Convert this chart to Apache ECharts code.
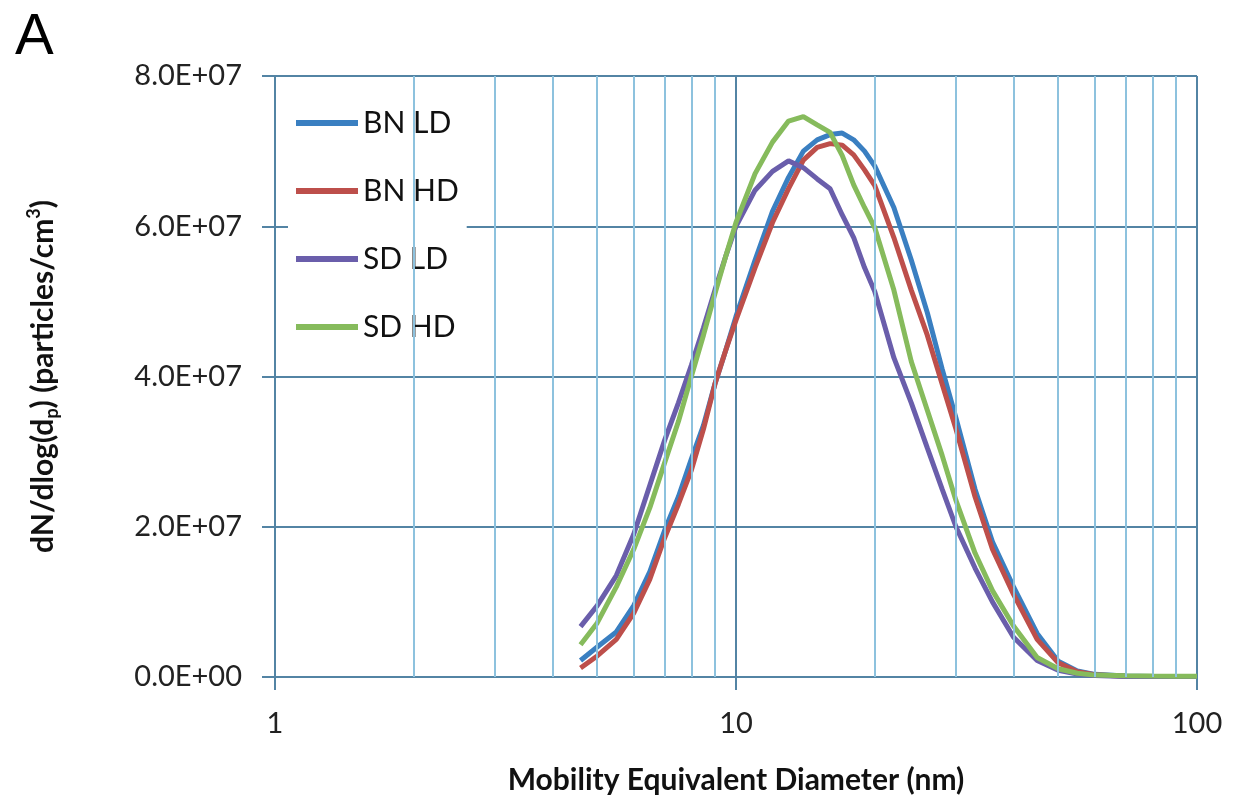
<!DOCTYPE html>
<html>
<head>
<meta charset="utf-8">
<script src="https://cdn.jsdelivr.net/npm/echarts@6/dist/echarts.min.js"></script>
<style>
  html, body { margin: 0; padding: 0; background: #fff; }
  #chart { width: 1233px; height: 803px; }
</style>
</head>
<body>
<div id="chart"></div>
<script>
// mobility diameters (nm) shared by all four curves
var diameters = [4.6, 5, 5.5, 6, 6.5, 7, 7.5, 8, 8.5, 9, 9.5, 10, 11, 12, 13, 14, 15, 16, 17, 18, 19, 20,
  22, 24, 26, 28, 30, 33, 36, 40, 45, 50, 55, 60, 70, 80, 90, 100];

// dN/dlog(dp), in millions of particles/cm3
var bnLD = [2.2, 4.0, 6.0, 9.5, 14, 19.5, 24, 29, 33.5, 39, 43.5, 48, 55.5, 62, 66.5, 70, 71.5, 72.2, 72.4, 71.5, 70, 68,
  62.5, 55.5, 48.5, 41, 34.5, 25, 18, 12, 5.8, 2.1, 0.8, 0.35, 0.12, 0.08, 0.05, 0.05];
var bnHD = [1.2, 2.8, 5.0, 8.5, 13, 18.5, 23, 27.5, 33, 39, 43.5, 47.5, 54.5, 60.5, 65, 68.8, 70.5, 71, 70.8, 69.5, 67.5, 65.4,
  58.5, 51.5, 45.5, 39, 33, 24, 17, 11, 5, 1.9, 0.7, 0.3, 0.1, 0.06, 0.05, 0.05];
var sdLD = [6.7, 9.5, 13.5, 19, 25.5, 31.5, 36.5, 41.5, 46.5, 51.5, 56, 60, 64.8, 67.3, 68.7, 67.8, 66.3, 65, 61.5, 58.5, 54.5, 51.3,
  42.5, 36.5, 30.5, 25, 20, 14.5, 10, 5.3, 2.2, 0.9, 0.4, 0.2, 0.08, 0.05, 0.05, 0.05];
var sdHD = [4.3, 7.2, 12, 17, 22.5, 28.5, 34, 40, 45.5, 51, 56, 60.5, 67, 71.2, 74, 74.6, 73.5, 72.5, 69.4, 65.5, 62.5, 59.8,
  51.5, 42, 35.5, 29.5, 23.5, 16.5, 11.5, 6.8, 2.6, 1.1, 0.5, 0.25, 0.15, 0.12, 0.1, 0.1];

var seriesNames = ['BN LD', 'BN HD', 'SD LD', 'SD HD'];
var seriesColors = ['#3a7fc1', '#bd4f4b', '#6a5eab', '#86bb5c'];
var seriesValues = [bnLD, bnHD, sdLD, sdHD];

// minor log gridlines
var minorTicks = [2, 3, 4, 5, 6, 7, 8, 9, 20, 30, 40, 50, 60, 70, 80, 90];

var majorColor = '#5384a4';
var minorColor = '#8dc2de';
var font = 'Lato';

function sciLabel(v) {
  if (v === 0) return '0.0E+00';
  var exp = Math.floor(Math.log10(v));
  var mant = v / Math.pow(10, exp);
  var e = String(Math.abs(exp));
  if (e.length < 2) e = '0' + e;
  return mant.toFixed(1) + 'E' + (exp < 0 ? '-' : '+') + e;
}

var series = [{
  name: 'grid',
  type: 'line',
  data: [],
  z: 1,
  silent: true,
  markLine: {
    silent: true,
    symbol: ['none', 'none'],
    label: { show: false },
    lineStyle: { color: minorColor, width: 2, type: 'solid' },
    data: minorTicks.map(function (t) { return { xAxis: t }; })
  }
}];

seriesNames.forEach(function (name, i) {
  series.push({
    name: name,
    type: 'line',
    z: 3,
    showSymbol: false,
    smooth: false,
    lineStyle: { width: 5, color: seriesColors[i] },
    itemStyle: { color: seriesColors[i] },
    data: diameters.map(function (d, j) {
      return [d, seriesValues[i][j] * 1e6];
    })
  });
});

var chart = echarts.init(document.getElementById('chart'));
chart.setOption({
  animation: false,
  backgroundColor: '#fff',
  title: {
    text: 'A',
    left: 10,
    top: 4,
    textStyle: { fontFamily: 'Liberation Sans', fontSize: 58, fontWeight: 'normal', color: '#000' }
  },
  grid: { left: 275, right: 36, top: 76, bottom: 126 },
  legend: {
    data: seriesNames,
    orient: 'vertical',
    left: 288,
    top: 92,
    padding: [16, 8, 10, 8],
    backgroundColor: '#fff',
    icon: 'rect',
    itemWidth: 62,
    itemHeight: 6,
    itemGap: 38,
    textStyle: { fontFamily: font, fontSize: 30, lineHeight: 30, color: '#111' }
  },
  xAxis: {
    type: 'log',
    logBase: 10,
    min: 1,
    max: 100,
    name: 'Mobility Equivalent Diameter (nm)',
    nameLocation: 'middle',
    nameGap: 88,
    nameTextStyle: { fontFamily: font, fontSize: 30, fontWeight: 'bold', color: '#111' },
    axisLine: { show: true, lineStyle: { color: majorColor, width: 2 } },
    axisTick: { show: true, length: 13, lineStyle: { color: majorColor, width: 2 } },
    axisLabel: { fontFamily: font, fontSize: 29, color: '#222', margin: 32 },
    splitLine: { show: true, lineStyle: { color: majorColor, width: 2 } }
  },
  yAxis: {
    type: 'value',
    min: 0,
    max: 8e7,
    interval: 2e7,
    name: '{b|dN/dlog(d}{sub|p}{b|) (particles/cm}{sup|3}{b|)}',
    nameLocation: 'middle',
    nameRotate: 90,
    nameGap: 214,
    nameTextStyle: {
      fontFamily: font, fontSize: 30, fontWeight: 'bold', color: '#111',
      rich: {
        b: { fontFamily: font, fontSize: 30, fontWeight: 'bold', color: '#111', lineHeight: 36, verticalAlign: 'middle' },
        sub: { fontFamily: font, fontSize: 18, fontWeight: 'bold', color: '#111', lineHeight: 36, verticalAlign: 'bottom' },
        sup: { fontFamily: font, fontSize: 18, fontWeight: 'bold', color: '#111', lineHeight: 36, verticalAlign: 'top' }
      }
    },
    axisLine: { show: true, lineStyle: { color: majorColor, width: 2 } },
    axisTick: { show: true, length: 13, lineStyle: { color: majorColor, width: 2 } },
    axisLabel: { fontFamily: font, fontSize: 29, color: '#222', margin: 33, formatter: sciLabel },
    splitLine: { show: true, lineStyle: { color: majorColor, width: 2 } }
  },
  series: series
});
</script>
</body>
</html>
